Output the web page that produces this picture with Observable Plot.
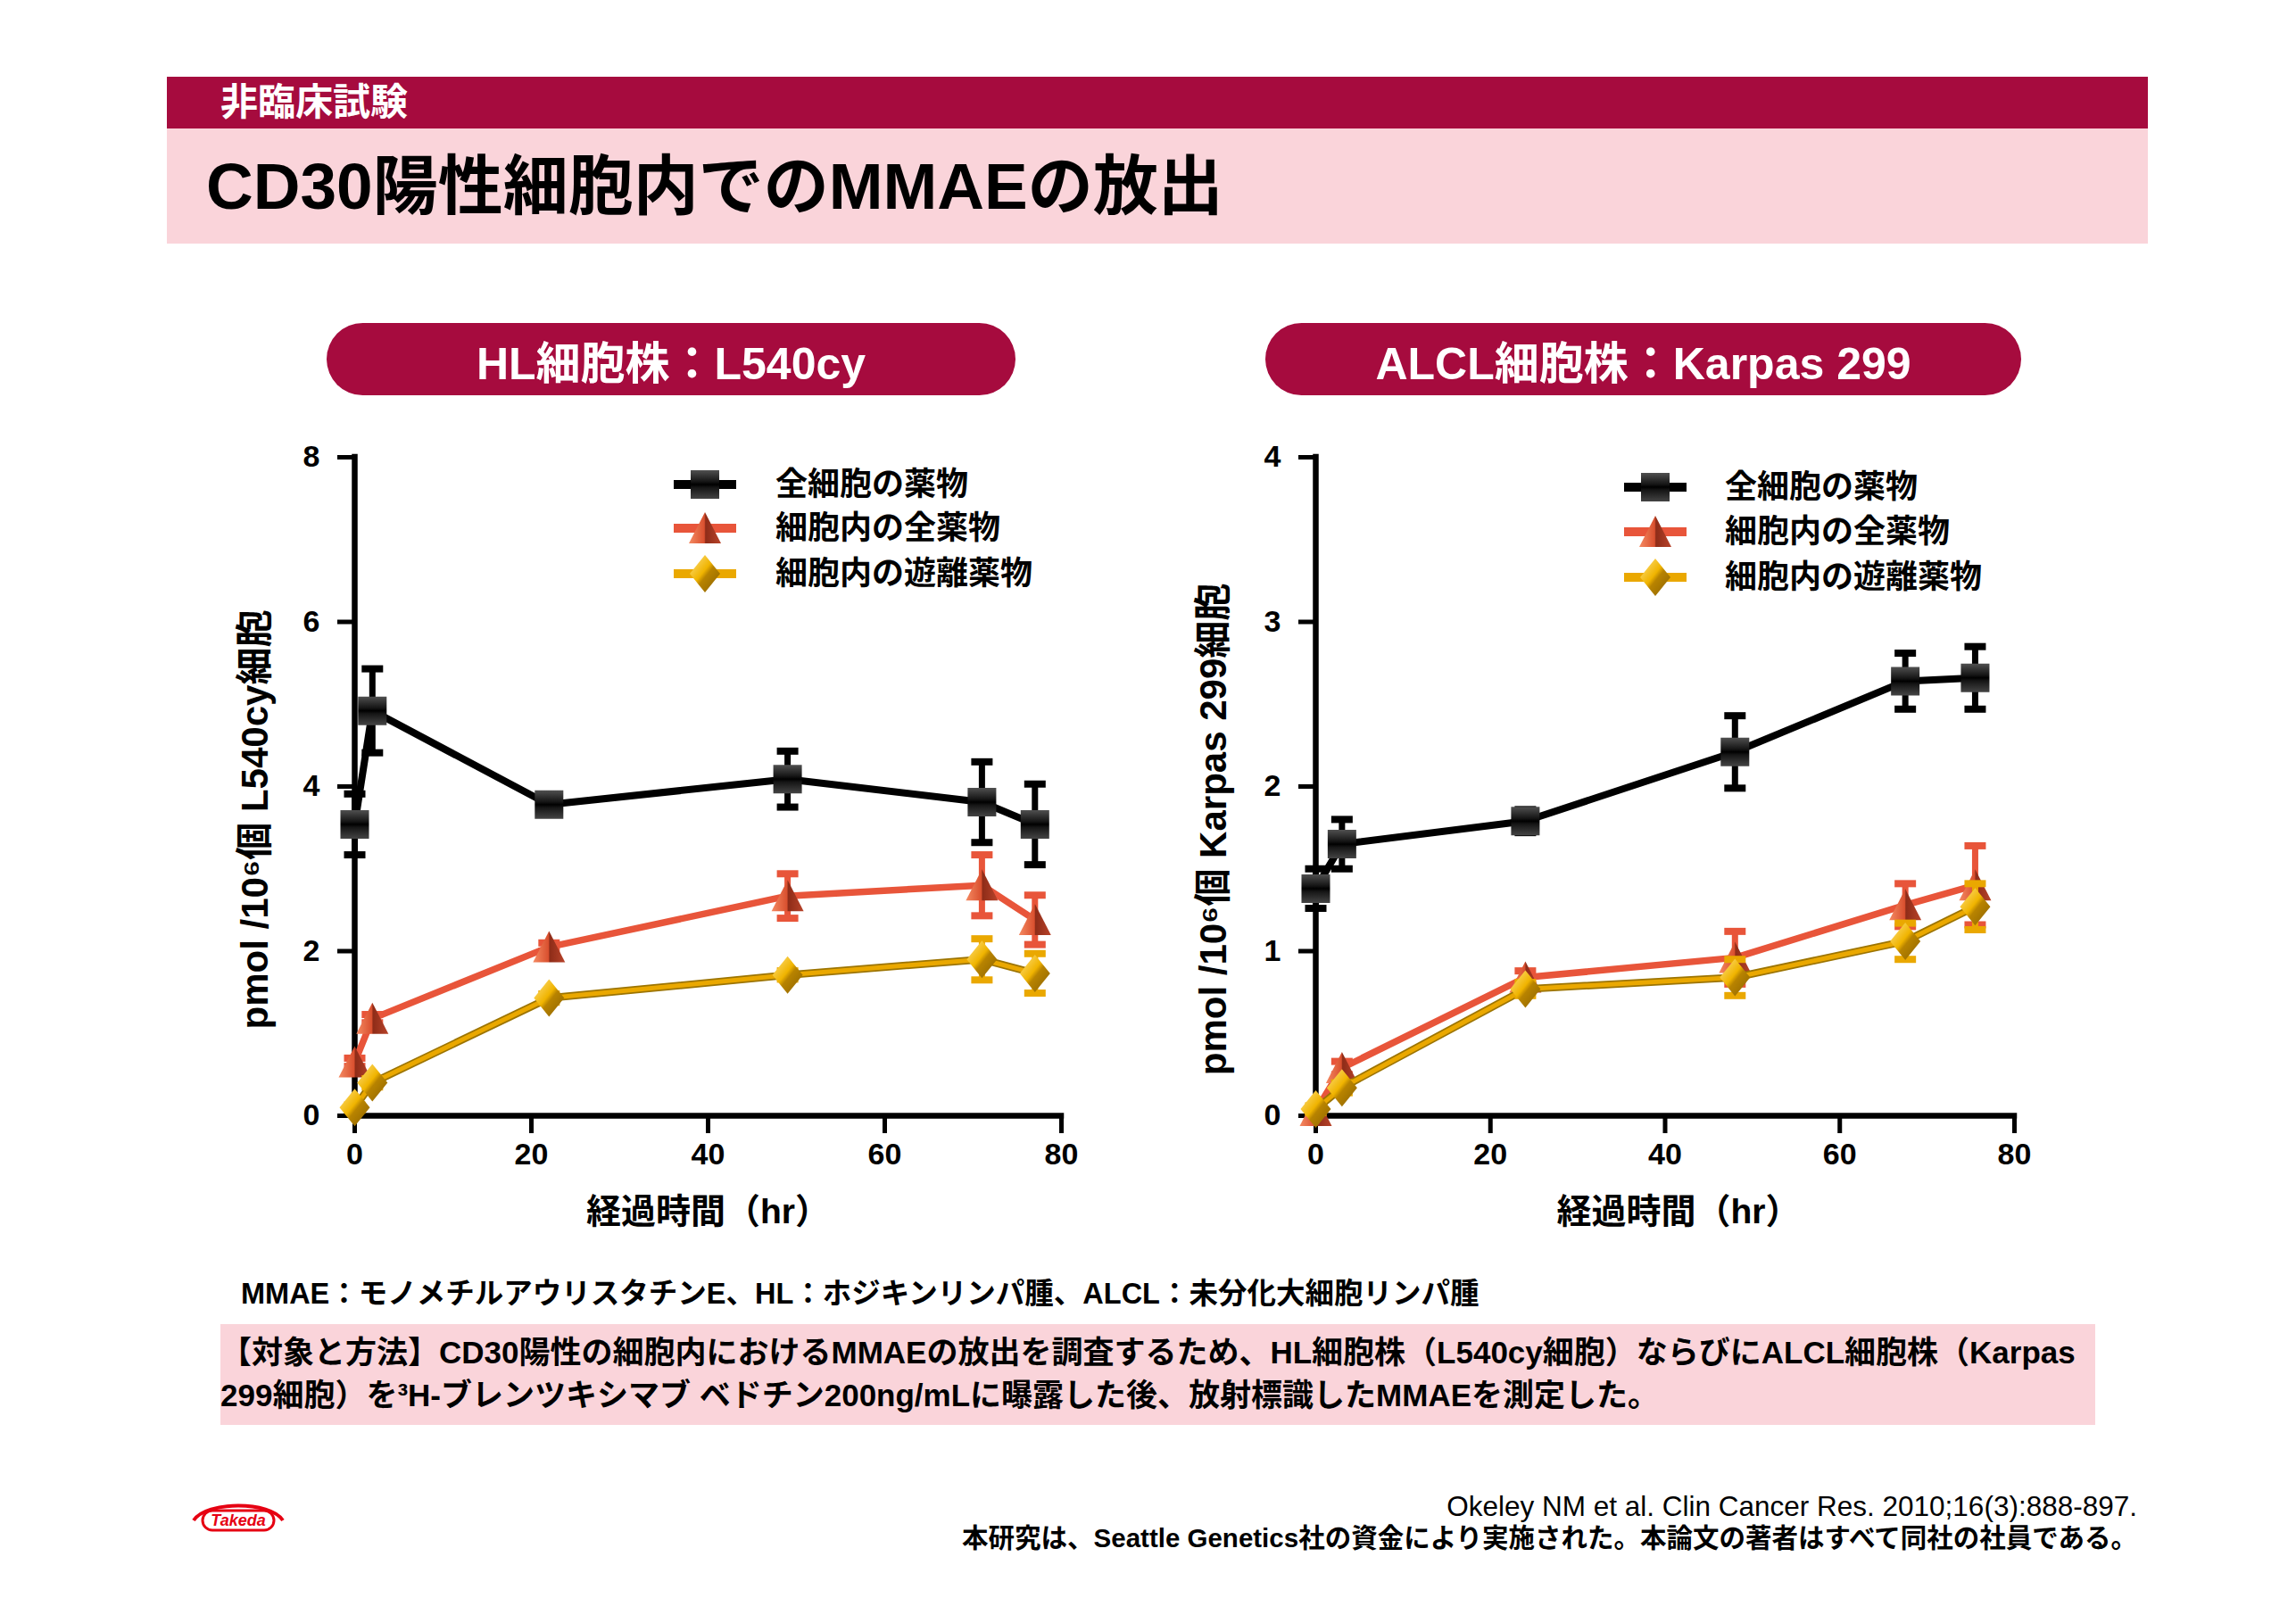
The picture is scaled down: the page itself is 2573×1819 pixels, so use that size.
<!DOCTYPE html>
<html><head><meta charset="utf-8">
<script src="https://cdn.jsdelivr.net/npm/d3@7"></script>
<script src="https://cdn.jsdelivr.net/npm/@observablehq/plot@0.6"></script>
<style>
html,body{margin:0;padding:0;background:#fff;width:2573px;height:1819px;overflow:hidden;}
#page{position:relative;width:2573px;height:1819px;overflow:hidden;font-family:"Liberation Sans",Arial,"Noto Sans CJK JP",sans-serif;color:#000;}
.abs{position:absolute;white-space:nowrap;}
.pill{position:absolute;top:362px;height:81px;border-radius:41px;background:#a60b3e;color:#fff;font-weight:700;font-size:50px;display:flex;align-items:center;justify-content:center;}
.leg{position:absolute;font-size:36px;font-weight:700;line-height:50px;white-space:nowrap;}
</style></head>
<body><div id="page">
<svg width="0" height="0" style="position:absolute">
 <defs>
  <linearGradient id="gSq" x1="0" y1="0" x2="0" y2="1">
   <stop offset="0" stop-color="#505050"/><stop offset="0.4" stop-color="#151515"/>
   <stop offset="0.5" stop-color="#000"/><stop offset="0.6" stop-color="#151515"/>
   <stop offset="1" stop-color="#444"/>
  </linearGradient>
  <linearGradient id="gTri" x1="0" y1="0" x2="1" y2="0">
   <stop offset="0" stop-color="#f58a62"/><stop offset="0.48" stop-color="#d9502f"/>
   <stop offset="0.52" stop-color="#8e2c18"/><stop offset="1" stop-color="#b8432a"/>
  </linearGradient>
  <linearGradient id="gDia" x1="0" y1="0" x2="1" y2="1">
   <stop offset="0" stop-color="#ffe38a"/><stop offset="0.45" stop-color="#f0b400"/>
   <stop offset="0.55" stop-color="#b88300"/><stop offset="1" stop-color="#8a6200"/>
  </linearGradient>
 </defs>
</svg>
<div class="abs" style="left:187px;top:86px;width:2220px;height:58px;background:#a60b3e;"></div>
<div class="abs" style="left:247px;top:86px;height:58px;line-height:58px;font-size:42px;font-weight:700;color:#fff;">非臨床試験</div>
<div class="abs" style="left:187px;top:144px;width:2220px;height:129px;background:#fad4da;"></div>
<div class="abs" style="left:231px;top:144px;height:129px;line-height:129px;font-size:73px;font-weight:700;">CD30陽性細胞内でのMMAEの放出</div>
<div class="pill" id="pillL" style="left:366px;width:772px;"></div>
<div class="pill" id="pillR" style="left:1418px;width:847px;"></div>
<div id="chartL" class="abs" style="left:227px;top:440px;"></div>
<div id="chartR" class="abs" style="left:1304px;top:440px;"></div>
<div id="legends"></div>
<div class="abs" style="left:270px;top:1426px;line-height:48px;font-size:32.5px;font-weight:700;">MMAE：モノメチルアウリスタチンE、HL：ホジキンリンパ腫、ALCL：未分化大細胞リンパ腫</div>
<div class="abs" style="left:247px;top:1484px;width:2101px;height:113px;background:#fad4da;"></div>
<div class="abs" style="left:247px;top:1492px;font-size:35px;font-weight:700;line-height:48px;">【対象と方法】CD30陽性の細胞内におけるMMAEの放出を調査するため、HL細胞株（L540cy細胞）ならびにALCL細胞株（Karpas<br>299細胞）を³H-ブレンツキシマブ ベドチン200ng/mLに曝露した後、放射標識したMMAEを測定した。</div>
<div class="abs" style="right:178px;top:1668px;font-size:31.5px;line-height:40px;text-align:right;">Okeley NM et al. Clin Cancer Res. 2010;16(3):888-897.</div>
<div class="abs" style="right:178px;top:1704px;font-size:29.5px;font-weight:700;line-height:40px;text-align:right;">本研究は、Seattle Genetics社の資金により実施された。本論文の著者はすべて同社の社員である。</div>
<svg class="abs" style="left:211px;top:1680px;" width="112" height="40" viewBox="0 0 112 40">
 <path d="M6,24 C20,2 92,2 106,24" fill="none" stroke="#e60012" stroke-width="4"/>
 <rect x="16" y="13" width="80" height="22" rx="11" fill="#fff" stroke="#e60012" stroke-width="3"/>
 <text x="56" y="30" text-anchor="middle" font-family="Liberation Sans, Arial" font-size="18" font-style="italic" font-weight="700" fill="#e60012">Takeda</text>
</svg>
</div>
<script>
// ---------- data ----------
const seriesNames = ["全細胞の薬物", "細胞内の全薬物", "細胞内の遊離薬物"];
const xTicks = [0, 20, 40, 60, 80];
const xLabel = "経過時間（hr）";

// HL cell line L540cy
const hlTitle = "HL細胞株：L540cy";
const hlYLabel = "pmol /10⁶個 L540cy細胞";
const hlYTicks = [0, 2, 4, 6, 8];
const hlTime = [0, 2, 22, 49, 71, 77];
const hlWhole = [3.54, 4.92, 3.78, 4.09, 3.81, 3.54];
const hlWholeErr = [0.37, 0.51, 0.08, 0.34, 0.49, 0.49];
const hlIntraTotal = [0.65, 1.18, 2.05, 2.67, 2.80, 2.38];
const hlIntraTotalErr = [0.05, 0.05, 0.05, 0.27, 0.37, 0.30];
const hlIntraFree = [0.10, 0.40, 1.43, 1.71, 1.90, 1.73];
const hlIntraFreeErr = [0.03, 0.05, 0.05, 0.05, 0.25, 0.24];

// ALCL cell line Karpas 299
const alTitle = "ALCL細胞株：Karpas 299";
const alYLabel = "pmol /10⁶個 Karpas 299細胞";
const alYTicks = [0, 1, 2, 3, 4];
const alTime = [0, 3, 24, 48, 67.5, 75.5];
const alWhole = [1.38, 1.65, 1.79, 2.21, 2.64, 2.66];
const alWholeErr = [0.12, 0.15, 0.07, 0.22, 0.17, 0.19];
const alIntraTotal = [0.03, 0.29, 0.84, 0.96, 1.28, 1.40];
const alIntraTotalErr = [0.02, 0.04, 0.04, 0.16, 0.13, 0.24];
const alIntraFree = [0.04, 0.17, 0.77, 0.84, 1.06, 1.27];
const alIntraFreeErr = [0.02, 0.03, 0.04, 0.11, 0.11, 0.14];

// ---------- styles ----------
const symSquare = {draw(c){const s=16;c.moveTo(-s,-s);c.lineTo(s,-s);c.lineTo(s,s);c.lineTo(-s,s);c.closePath();}};
const symTri = {draw(c){c.moveTo(0,-18);c.lineTo(18,17);c.lineTo(-18,17);c.closePath();}};
const symDia = {draw(c){c.moveTo(0,-21);c.lineTo(17,0);c.lineTo(0,21);c.lineTo(-17,0);c.closePath();}};
const symCap = {draw(c){c.moveTo(-12,-4);c.lineTo(12,-4);c.lineTo(12,4);c.lineTo(-12,4);c.closePath();}};
const styles = [
  {color: "#000000", lw: 8, sym: symSquare, fill: "url(#gSq)"},
  {color: "#e8553a", lw: 7.5, sym: symTri, fill: "url(#gTri)"},
  {color: "#eaa800", lw: 5, sym: symDia, fill: "url(#gDia)", outline: "#9c7400"}
];
const FONT = '"Liberation Sans", Arial, "Noto Sans CJK JP", sans-serif';

function makeChart(cfg) {
  const marks = [
    Plot.ruleX([0], {strokeWidth: 6.5, strokeLinecap: "square"}),
    Plot.ruleY([0], {strokeWidth: 6.5, strokeLinecap: "square"}),
    Plot.axisX({ticks: xTicks, tickFormat: d => `${d}`, tickSize: 20, tickPadding: 10, strokeWidth: 5, fontSize: 34, fontWeight: "bold", label: null}),
    Plot.axisY({ticks: cfg.yTicks, tickFormat: d => `${d}`, tickSize: 19, tickPadding: 20, strokeWidth: 5, fontSize: 34, fontWeight: "bold", label: null}),
    Plot.text([xLabel], {text: d => d, frameAnchor: "bottom", dx: cfg.xdx, dy: 120, fontSize: 39, fontWeight: "bold"}),
    Plot.text([cfg.yLabel], {text: d => d, frameAnchor: "left", textAnchor: "middle", lineAnchor: "middle", rotate: -90, dx: cfg.ydx, dy: cfg.ydy, fontSize: 42, fontWeight: "bold"})
  ];
  cfg.series.forEach((s, i) => {
    const st = styles[i];
    const rows = s.values.map((v, k) => ({t: cfg.time[k], v, e: s.errs[k]}));
    if (st.outline) {
      marks.push(Plot.line(rows, {x: "t", y: "v", stroke: st.outline, strokeWidth: st.lw + 3.5}));
    }
    marks.push(Plot.line(rows, {x: "t", y: "v", stroke: st.color, strokeWidth: st.lw}));
    marks.push(Plot.ruleX(rows, {x: "t", y1: d => d.v - d.e, y2: d => d.v + d.e, stroke: st.color, strokeWidth: 7}));
    marks.push(Plot.dot(rows, {x: "t", y: d => d.v + d.e, symbol: symCap, fill: st.color}));
    marks.push(Plot.dot(rows, {x: "t", y: d => d.v - d.e, symbol: symCap, fill: st.color}));
    marks.push(Plot.dot(rows, {x: "t", y: "v", symbol: st.sym, fill: st.fill}));
  });
  return Plot.plot({
    width: cfg.width, height: 980,
    marginLeft: 170, marginRight: cfg.width - 170 - cfg.plotW, marginTop: 72, marginBottom: 170,
    x: {domain: [0, 80]}, y: {domain: [0, cfg.yTicks[cfg.yTicks.length - 1]]},
    style: {fontFamily: FONT, fontSize: "34px", background: "transparent", overflow: "visible", color: "#000"},
    marks
  });
}

document.getElementById("pillL").textContent = hlTitle;
document.getElementById("pillR").textContent = alTitle;

document.getElementById("chartL").appendChild(makeChart({
  width: 1022, plotW: 792, yTicks: hlYTicks, yLabel: hlYLabel, ydx: -111, ydy: 37, xdx: 0, time: hlTime,
  series: [{values: hlWhole, errs: hlWholeErr}, {values: hlIntraTotal, errs: hlIntraTotalErr}, {values: hlIntraFree, errs: hlIntraFreeErr}]
}));
document.getElementById("chartR").appendChild(makeChart({
  width: 1013, plotW: 783, yTicks: alYTicks, yLabel: alYLabel, ydx: -114, ydy: 48, xdx: 15, time: alTime,
  series: [{values: alWhole, errs: alWholeErr}, {values: alIntraTotal, errs: alIntraTotalErr}, {values: alIntraFree, errs: alIntraFreeErr}]
}));

// ---------- legends ----------
function addLegend(markerX, textX, rowYs) {
  const host = document.getElementById("legends");
  seriesNames.forEach((name, i) => {
    const st = styles[i];
    const p = d3.path(); st.sym.draw(p);
    const svg = d3.create("svg").attr("width", 80).attr("height", 56)
      .style("position", "absolute").style("left", (markerX - 38) + "px").style("top", (rowYs[i] - 28) + "px").style("overflow", "visible");
    svg.append("line").attr("x1", 3).attr("x2", 73).attr("y1", 28).attr("y2", 28).attr("stroke", st.color).attr("stroke-width", 10);
    svg.append("path").attr("d", p.toString()).attr("transform", "translate(38,28)").attr("fill", st.fill);
    host.appendChild(svg.node());
    const t = document.createElement("div");
    t.className = "leg"; t.style.left = textX + "px"; t.style.top = (rowYs[i] - 25) + "px"; t.textContent = name;
    host.appendChild(t);
  });
}
addLegend(790, 869, [543, 592, 643]);
addLegend(1855, 1933, [546, 596, 647]);
</script>
</body></html>
